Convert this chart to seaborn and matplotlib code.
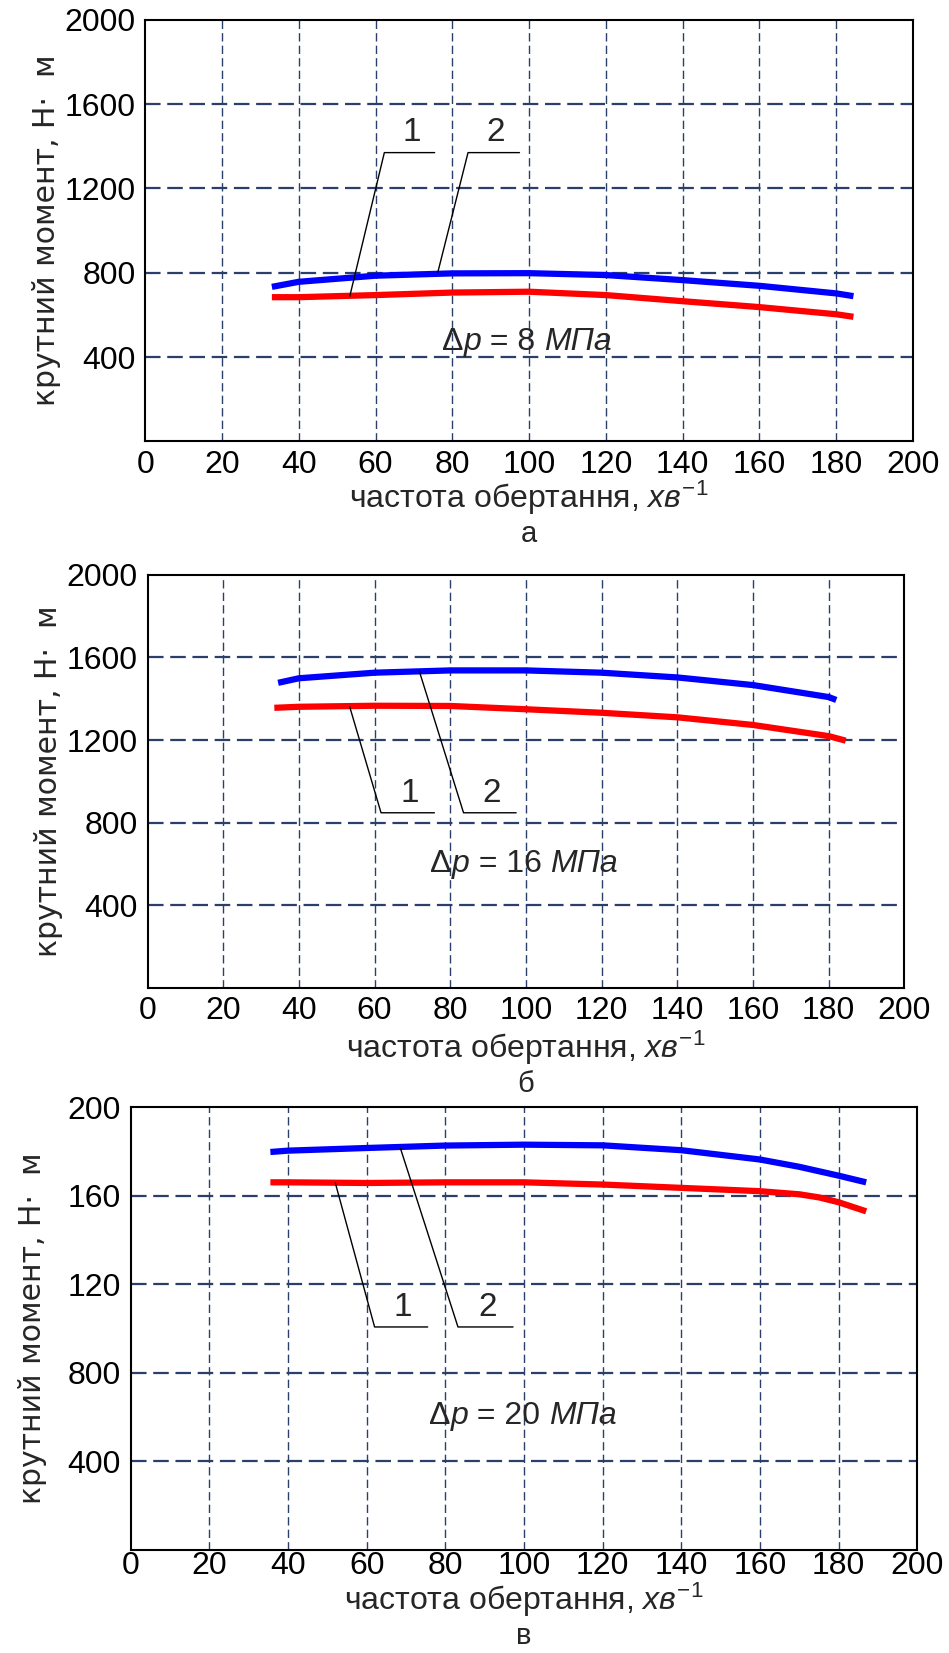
import matplotlib
matplotlib.use("Agg")
import numpy as np
import pandas as pd
import matplotlib.pyplot as plt
import seaborn as sns
from matplotlib.offsetbox import TextArea, HPacker, AnnotationBbox

sns.set_style("white")
FONT = ["Liberation Sans", "DejaVu Sans"]
plt.rcParams["font.family"] = FONT
plt.rcParams["mathtext.fontset"] = "custom"
plt.rcParams["mathtext.rm"] = "Liberation Sans"
plt.rcParams["mathtext.it"] = "Liberation Sans:italic"

# shared x ticks
x_ticks = [0, 20, 40, 60, 80, 100, 120, 140, 160, 180, 200]
y_ticks = [400, 800, 1200, 1600, 2000]

# panel a (dp = 8 MPa)
a_x1 = [33, 40, 60, 80, 100, 120, 140, 160, 180, 184.5]
a_y1 = [684, 684, 694, 706, 710, 694, 665, 637, 603, 591]
a_x2 = [33, 40, 60, 80, 100, 120, 140, 160, 180, 184.5]
a_y2 = [733, 757, 786, 797, 798, 789, 765, 738, 702, 689]
a_ylabels = ["400", "800", "1200", "1600", "2000"]

# panel b (dp = 16 MPa)
b_x1 = [33.5, 40, 60, 80, 100, 120, 140, 160, 180, 184.5]
b_y1 = [1356, 1361, 1366, 1365, 1349, 1332, 1310, 1273, 1219, 1197]
b_x2 = [34.5, 40, 60, 80, 100, 120, 140, 160, 180, 182]
b_y2 = [1477, 1499, 1526, 1537, 1537, 1526, 1503, 1466, 1408, 1394]
b_ylabels = ["400", "800", "1200", "1600", "2000"]

# panel c (dp = 20 MPa) - tick labels as printed in the original
c_x1 = [35.5, 40, 60, 80, 100, 120, 140, 160, 170, 175, 180, 187]
c_y1 = [1660, 1660, 1657, 1660, 1660, 1650, 1635, 1620, 1606, 1592, 1570, 1529]
c_x2 = [35.5, 40, 60, 80, 100, 120, 140, 160, 170, 180, 187]
c_y2 = [1797, 1803, 1815, 1826, 1830, 1827, 1805, 1763, 1730, 1690, 1660]
c_ylabels = ["400", "800", "120", "160", "200"]

# leader lines for the curve numbers: curve point -> bend -> shelf end
a_lead1 = ([53.3, 62.3, 75.4], [689, 1370, 1370])
a_lead2 = ([76.2, 84.1, 97.5], [800, 1370, 1370])
b_lead1 = ([53.4, 61.7, 75.8], [1362, 848, 848])
b_lead2 = ([71.8, 83.5, 97.4], [1534, 848, 848])
c_lead1 = ([52.0, 62.0, 75.5], [1658, 1007, 1007])
c_lead2 = ([68.6, 83.2, 97.2], [1812, 1007, 1007])

panels = [
    dict(pos=[0.153, 0.733, 0.809, 0.255], x1=a_x1, y1=a_y1, x2=a_x2, y2=a_y2,
         ylab=a_ylabels, l1=a_lead1, l2=a_lead2, dp="8", dpxy=(99.4, 471),
         letter="а", xl_off=-41, let_off=-67, xpad=6),
    dict(pos=[0.1555, 0.4023, 0.7975, 0.25], x1=b_x1, y1=b_y1, x2=b_x2, y2=b_y2,
         ylab=b_ylabels, l1=b_lead1, l2=b_lead2, dp="16", dpxy=(99.5, 601),
         letter="б", xl_off=-43, let_off=-69, xpad=6),
    dict(pos=[0.1378, 0.0623, 0.8288, 0.268], x1=c_x1, y1=c_y1, x2=c_x2, y2=c_y2,
         ylab=c_ylabels, l1=c_lead1, l2=c_lead2, dp="20", dpxy=(99.7, 603),
         letter="в", xl_off=-36, let_off=-62, xpad=1),
]

grid_c = "#2b3f6b"
fig = plt.figure(figsize=(9.49, 16.53), dpi=100)

for p in panels:
    ax = fig.add_axes(p["pos"])
    ax.set_xlim(0, 200)
    ax.set_ylim(0, 2000)
    for gx in x_ticks[1:-1]:
        ax.axvline(gx, color=grid_c, lw=1.0, ls=(0, (6, 3)), zorder=1)
    for gy in y_ticks[:-1]:
        ax.axhline(gy, color=grid_c, lw=1.6, ls=(0, (7, 3)), zorder=1)

    df1 = pd.DataFrame({"x": p["x1"], "y": p["y1"]})
    df2 = pd.DataFrame({"x": p["x2"], "y": p["y2"]})
    sns.lineplot(data=df1, x="x", y="y", ax=ax, color="#ff0000", lw=4.5,
                 sort=False, zorder=3, solid_capstyle="butt")
    sns.lineplot(data=df2, x="x", y="y", ax=ax, color="#0000ff", lw=4.5,
                 sort=False, zorder=3, solid_capstyle="butt")

    for lead, num in [(p["l1"], "1"), (p["l2"], "2")]:
        ax.plot(lead[0], lead[1], color="black", lw=1.0, zorder=4)
        ax.text((lead[0][1] + lead[0][2]) / 2 + 0.5, lead[1][1] + 20, num,
                ha="center", va="bottom", fontsize=24)

    parts = [
        TextArea("Δ", textprops=dict(fontsize=23, family=FONT)),
        TextArea("p", textprops=dict(fontsize=23, family=FONT, style="italic")),
        TextArea(" = " + p["dp"] + " ", textprops=dict(fontsize=23, family=FONT)),
        TextArea("МПа", textprops=dict(fontsize=23, family=FONT, style="italic")),
    ]
    box = HPacker(children=parts, pad=0, sep=0, align="baseline")
    ab = AnnotationBbox(box, p["dpxy"], xycoords="data", frameon=False,
                        box_alignment=(0.5, 0.5), zorder=5)
    ax.add_artist(ab)

    ax.set_xticks(x_ticks)
    ax.set_xticklabels([str(v) for v in x_ticks])
    ax.set_yticks(y_ticks)
    ax.set_yticklabels(p["ylab"])
    ax.tick_params(axis="both", length=0, labelsize=23, colors="black")
    ax.tick_params(axis="x", pad=p["xpad"])
    ax.tick_params(axis="y", pad=7)
    for s in ax.spines.values():
        s.set_color("black")
        s.set_linewidth(1.5)
        s.set_visible(True)
    ax.set_xlabel("")
    ax.set_ylabel("")

    ax.annotate("частота обертання, $\\mathit{хв}^{-1}$", xy=(0.5, 0),
                xycoords="axes fraction", xytext=(0, p["xl_off"]),
                textcoords="offset points", ha="center", va="center",
                fontsize=23)
    ax.annotate(p["letter"], xy=(0.5, 0), xycoords="axes fraction",
                xytext=(0, p["let_off"]), textcoords="offset points",
                ha="center", va="center", fontsize=21)
    ax.annotate("крутний момент, Н·  м", xy=(0, 0.5), xycoords="axes fraction",
                xytext=(-71, 0), textcoords="offset points", ha="center",
                va="center", rotation=90, fontsize=21.5, family="DejaVu Sans")

fig.savefig("out.png", dpi=100)
